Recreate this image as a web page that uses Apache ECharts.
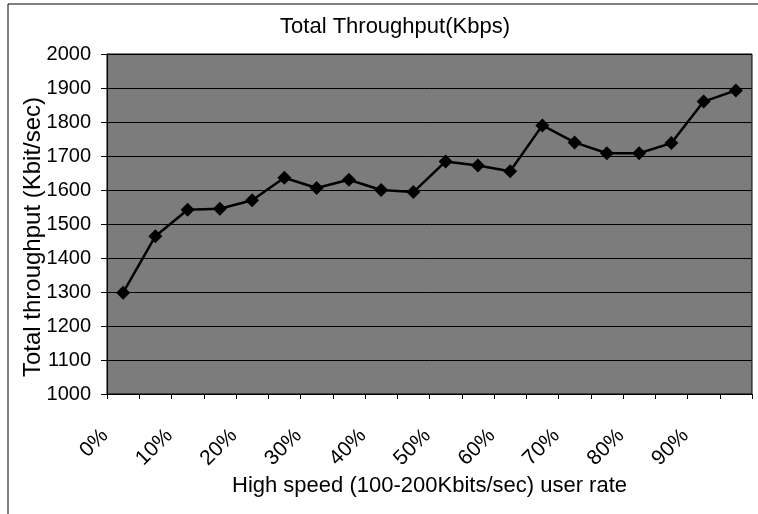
<!DOCTYPE html>
<html>
<head>
<meta charset="utf-8">
<script src="https://cdn.jsdelivr.net/npm/echarts@6/dist/echarts.min.js"></script>
<style>
  html, body { margin: 0; padding: 0; background: #fff; }
  #chart { width: 758px; height: 514px; }
</style>
</head>
<body>
<div id="chart"></div>
<script>
// user rate categories (every 5%), only every other one is labelled
const categories = ["0%", "5%", "10%", "15%", "20%", "25%", "30%", "35%", "40%", "45%",
  "50%", "55%", "60%", "65%", "70%", "75%", "80%", "85%", "90%", "95%"];
const throughput = [1298, 1464, 1542, 1545, 1570, 1636, 1606, 1630, 1600, 1594,
  1684, 1672, 1655, 1790, 1740, 1708, 1708, 1738, 1860, 1893];
const yMin = 1000;
const yMax = 2000;
const yStep = 100;

const chart = echarts.init(document.getElementById("chart"));
const font = "'Liberation Sans', Arial, sans-serif";

const option = {
  animation: false,
  backgroundColor: "#fff",
  title: {
    text: "Total Throughput(Kbps)",
    left: 390,
    textAlign: "center",
    top: 11,
    textStyle: { fontFamily: font, fontSize: 22, fontWeight: "normal", color: "#000" }
  },
  grid: {
    left: 107, right: 6, top: 54, bottom: 120,
    show: true,
    backgroundColor: "#7c7c7c",
    borderColor: "#000",
    borderWidth: 1
  },
  xAxis: {
    type: "category",
    data: categories,
    boundaryGap: true,
    name: "High speed (100-200Kbits/sec) user rate",
    nameLocation: "middle",
    nameGap: 81,
    nameMoveOverlap: false,
    nameTextStyle: { fontFamily: font, fontSize: 22, color: "#000" },
    axisLine: { lineStyle: { color: "#000", width: 1 } },
    axisTick: { show: true, interval: 0, length: 5, lineStyle: { color: "#000" } },
    axisLabel: {
      interval: 1,
      rotate: 45,
      margin: 20,
      padding: [0, 26, 0, 0],
      fontFamily: font,
      fontSize: 21,
      color: "#000"
    },
    splitLine: { show: false }
  },
  yAxis: {
    type: "value",
    min: yMin,
    max: yMax,
    interval: yStep,
    name: "Total throughput (Kbit/sec)",
    nameLocation: "middle",
    nameGap: 62,
    nameMoveOverlap: false,
    nameTextStyle: { fontFamily: font, fontSize: 24, color: "#000", padding: [0, 26, 0, 0] },
    axisLine: { show: true, lineStyle: { color: "#000", width: 1 } },
    axisTick: { show: true, length: 6, lineStyle: { color: "#000" } },
    axisLabel: {
      fontFamily: font, fontSize: 20, color: "#000", margin: 16,
      formatter: (v) => String(v)
    },
    splitLine: { show: true, lineStyle: { color: "#000", width: 1 } }
  },
  graphic: [
    { type: "line", shape: { x1: 8, y1: 4, x2: 758, y2: 4 }, style: { stroke: "#000", lineWidth: 1 } },
    { type: "line", shape: { x1: 8, y1: 4, x2: 8, y2: 514 }, style: { stroke: "#000", lineWidth: 1 } }
  ],
  series: [
    {
      type: "line",
      data: throughput,
      symbol: "diamond",
      symbolSize: 14,
      itemStyle: { color: "#000" },
      lineStyle: { color: "#000", width: 2.5 }
    }
  ]
};

chart.setOption(option);
</script>
</body>
</html>
